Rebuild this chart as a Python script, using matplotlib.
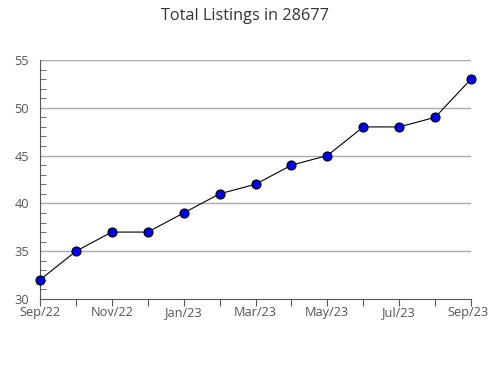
import matplotlib
matplotlib.use("Agg")
import matplotlib.pyplot as plt
import matplotlib.transforms as mtransforms
from matplotlib.ticker import MultipleLocator

months = ["Sep/22", "Oct/22", "Nov/22", "Dec/22", "Jan/23", "Feb/23", "Mar/23",
          "Apr/23", "May/23", "Jun/23", "Jul/23", "Aug/23", "Sep/23"]
listings = [32, 35, 37, 37, 39, 41, 42, 44, 45, 48, 48, 49, 53]
tick_labels = ["Sep/22", "", "Nov/22", "", "Jan/23", "", "Mar/23", "", "May/23", "", "Jul/23", "", "Sep/23"]

plt.rcParams['font.family'] = ['Open Sans', 'DejaVu Sans']

fig = plt.figure(figsize=(4.9, 3.8), dpi=100)
ax = fig.add_axes([40/490, 1-299/380, (471-40)/490, (299-60)/380])

x = list(range(len(months)))
ax.plot(x, listings, color='black', lw=0.8, marker='o', ms=6.5,
        markerfacecolor='#0000ee', markeredgecolor='black', markeredgewidth=0.8, zorder=3, clip_on=False)

ax.set_xlim(0, len(months)-1)
ax.set_ylim(30, 55)
ax.set_yticks([30, 35, 40, 45, 50, 55])
ax.yaxis.set_minor_locator(MultipleLocator(1))
ax.set_xticks(x)
ax.set_xticklabels(tick_labels)

for y in [35, 40, 45, 50, 55]:
    ax.axhline(y, color='#aaaaaa', lw=1, zorder=1)

for s in ['top', 'right']:
    ax.spines[s].set_visible(False)
for s in ['left', 'bottom']:
    ax.spines[s].set_color('#555555')
    ax.spines[s].set_linewidth(0.8)

ax.tick_params(axis='y', which='major', length=0, labelsize=9.2, labelcolor='#555555', pad=8)
ax.tick_params(axis='y', which='minor', direction='in', length=4, color='#555555', width=0.6)
ax.tick_params(axis='x', which='major', direction='out', length=5, color='#555555', width=0.8,
               labelsize=9.2, labelcolor='#555555', pad=0)

last = ax.get_xticklabels()[-1]
last.set_transform(last.get_transform() + mtransforms.ScaledTranslation(-3/100, 0, fig.dpi_scale_trans))

fig.text(0.5, 1-16/380, "Total Listings in 28677", ha='center', va='center', fontsize=11.7, color='#333333')

fig.savefig("out.png", dpi=100)
